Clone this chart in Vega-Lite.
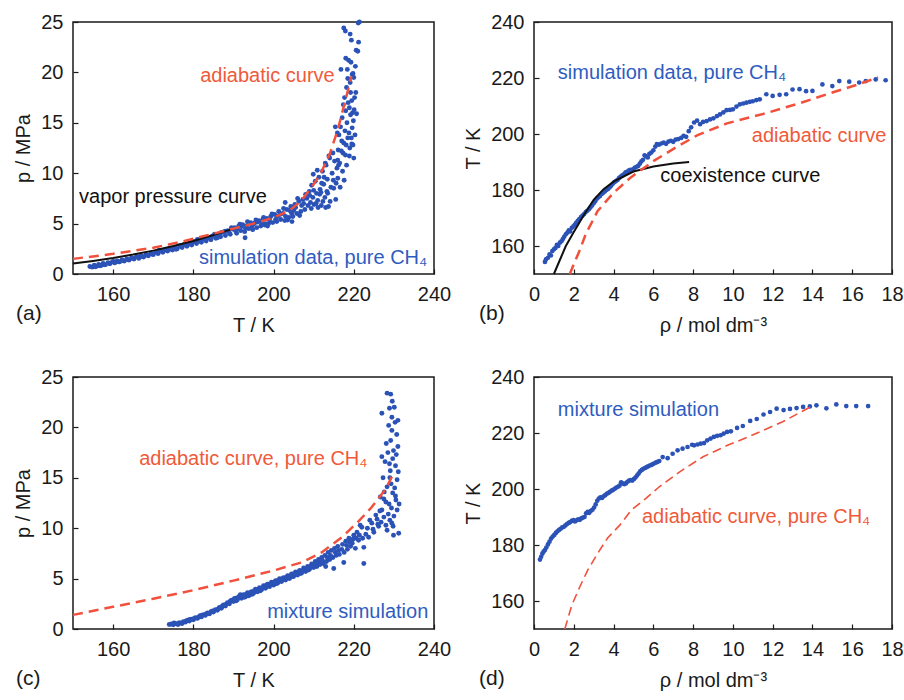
{
"$schema": "https://vega.github.io/schema/vega-lite/v6.json",
"background": "white",
"padding": {"left": 13, "top": 11, "right": 0, "bottom": 0},
"autosize": {"type": "pad"},
"config": {
  "font": "Liberation Sans",
  "view": {"stroke": "#1a1a1a", "strokeWidth": 1.5},
  "axis": {"domain": false, "grid": false, "tickSize": -5, "tickColor": "#1a1a1a", "tickWidth": 1.2,
           "labelFontSize": 20, "labelColor": "#1a1a1a", "labelPadding": 15, "labelFlush": false, "labelOverlap": false,
           "titleFontSize": 20, "titleFontWeight": "normal", "titleColor": "#1a1a1a"},
  "axisX": {"titlePadding": 11},
  "axisY": {"titlePadding": 7},
  "title": {"fontSize": 21, "fontWeight": "normal", "color": "#1a1a1a", "font": "Liberation Sans"}
},
"datasets": {
  "a_sim": [
{"T":154.2,"p":0.75},{"T":154.8,"p":0.68},{"T":155.3,"p":0.88},{"T":155.9,"p":0.78},{"T":156.4,"p":0.95},{"T":157.0,"p":0.85},{"T":157.5,"p":1.05},{"T":158.1,"p":0.93},{"T":158.7,"p":1.12},{"T":159.2,"p":1.02},{"T":159.8,"p":1.2},{"T":160.4,"p":1.1},{"T":161.0,"p":1.3},{"T":161.6,"p":1.2},{"T":162.2,"p":1.4},{"T":162.8,"p":1.28},{"T":163.4,"p":1.5},{"T":164.0,"p":1.38},{"T":164.6,"p":1.6},{"T":165.2,"p":1.48},{"T":165.8,"p":1.7},{"T":166.4,"p":1.55},{"T":167.0,"p":1.8},{"T":167.6,"p":1.68},{"T":168.2,"p":1.92},{"T":168.8,"p":1.8},{"T":169.4,"p":2.05},{"T":170.0,"p":1.92},{"T":170.6,"p":2.15},{"T":171.2,"p":2.02},{"T":171.8,"p":2.3},{"T":172.4,"p":2.15},{"T":173.0,"p":2.42},{"T":173.6,"p":2.28},{"T":174.2,"p":2.55},{"T":174.8,"p":2.38},{"T":175.4,"p":2.65},{"T":176.0,"p":2.5},{"T":176.6,"p":2.8},{"T":177.2,"p":2.62},{"T":177.8,"p":2.95},{"T":178.4,"p":2.75},{"T":179.0,"p":3.1},{"T":179.6,"p":2.88},{"T":180.2,"p":3.2},{"T":180.8,"p":3.02},{"T":181.4,"p":3.38},{"T":182.0,"p":3.15},{"T":182.6,"p":3.5},{"T":183.2,"p":3.28},{"T":183.8,"p":3.62},{"T":184.4,"p":3.4},{"T":185.0,"p":3.8},{"T":185.6,"p":3.55},{"T":186.2,"p":3.95},{"T":186.8,"p":3.7},{"T":187.4,"p":4.15},{"T":188.0,"p":3.82},{"T":188.6,"p":4.3},{"T":189.2,"p":3.95},{"T":189.8,"p":4.45},
{"T":155.6,"p":0.72},{"T":157.8,"p":0.92},{"T":160.1,"p":1.25},{"T":162.5,"p":1.32},{"T":164.9,"p":1.55},{"T":167.3,"p":1.72},{"T":169.7,"p":1.98},{"T":172.1,"p":2.25},{"T":174.5,"p":2.45},{"T":176.9,"p":2.72},{"T":179.3,"p":2.98},{"T":181.7,"p":3.25},{"T":184.1,"p":3.52},{"T":186.5,"p":3.82},{"T":188.9,"p":4.12},{"T":183.5,"p":3.6},{"T":178.1,"p":2.9},{"T":173.3,"p":2.35},{"T":168.5,"p":1.85},{"T":163.7,"p":1.42},{"T":158.9,"p":1.08},{"T":181.0,"p":3.42},{"T":186.0,"p":3.6},
{"T":171.5,"p":2.35},{"T":175.7,"p":2.45},{"T":179.9,"p":3.2},{"T":182.3,"p":3.45},{"T":184.7,"p":3.75},{"T":166.1,"p":1.72},{"T":161.3,"p":1.22},{"T":156.7,"p":0.82},
{"T":190.3,"p":4.6},{"T":190.8,"p":4.05},{"T":191.3,"p":4.75},{"T":191.8,"p":4.3},{"T":192.3,"p":4.9},{"T":192.8,"p":4.2},{"T":193.3,"p":4.8},{"T":193.8,"p":4.5},{"T":194.3,"p":5.1},{"T":194.8,"p":4.4},{"T":195.3,"p":5.05},{"T":195.8,"p":4.6},{"T":196.3,"p":5.3},{"T":196.8,"p":4.75},{"T":197.3,"p":5.4},{"T":197.8,"p":4.85},{"T":198.3,"p":5.5},{"T":198.8,"p":5.0},{"T":199.3,"p":5.7},{"T":199.8,"p":5.1},{"T":191.0,"p":4.5},{"T":193.0,"p":4.55},{"T":195.0,"p":4.95},{"T":197.0,"p":5.05},{"T":199.0,"p":5.35},{"T":192.0,"p":4.7},{"T":196.0,"p":5.15},{"T":198.0,"p":5.0},{"T":192.9,"p":3.6},
{"T":185.3,"p":3.95},{"T":186.9,"p":4.1},{"T":187.9,"p":4.25},{"T":189.5,"p":4.6},{"T":190.5,"p":4.3},{"T":191.6,"p":4.95},{"T":193.5,"p":5.2},{"T":194.6,"p":4.7},{"T":195.6,"p":5.35},{"T":197.5,"p":5.6},{"T":198.5,"p":4.75},{"T":199.6,"p":5.95},
{"T":200.3,"p":5.9},{"T":200.8,"p":5.2},{"T":201.3,"p":6.2},{"T":201.8,"p":5.4},{"T":202.3,"p":6.0},{"T":202.8,"p":5.3},{"T":202.9,"p":7.1},{"T":203.3,"p":6.4},{"T":203.8,"p":5.6},{"T":204.3,"p":6.7},{"T":204.8,"p":5.7},{"T":205.3,"p":6.9},{"T":205.8,"p":6.0},{"T":206.3,"p":7.2},{"T":206.8,"p":6.2},{"T":207.3,"p":7.4},{"T":207.8,"p":6.4},{"T":201.0,"p":5.7},{"T":203.0,"p":5.7},{"T":205.0,"p":6.3},{"T":207.0,"p":6.8},{"T":204.0,"p":6.3},{"T":206.0,"p":7.5},{"T":204.6,"p":5.2},
{"T":200.5,"p":5.4},{"T":201.6,"p":5.9},{"T":202.5,"p":6.5},{"T":203.5,"p":5.35},{"T":204.5,"p":6.0},{"T":205.5,"p":6.6},{"T":206.5,"p":5.8},{"T":207.5,"p":7.0},
{"T":208.3,"p":7.5},{"T":208.6,"p":6.8},{"T":208.9,"p":8.2},{"T":209.2,"p":7.1},{"T":209.5,"p":8.8},{"T":209.8,"p":7.6},{"T":210.1,"p":6.9},{"T":210.4,"p":9.2},{"T":210.7,"p":8.0},{"T":211.0,"p":7.3},{"T":211.3,"p":9.6},{"T":211.6,"p":8.4},{"T":211.9,"p":6.8},{"T":212.2,"p":10.2},{"T":212.5,"p":8.9},{"T":212.8,"p":7.6},{"T":213.1,"p":10.8},{"T":213.4,"p":9.4},{"T":213.7,"p":6.7},{"T":214.0,"p":11.5},{"T":214.3,"p":8.6},{"T":214.6,"p":10.0},{"T":213.0,"p":6.6},{"T":212.0,"p":9.0},{"T":211.5,"p":7.9},{"T":210.0,"p":8.3},{"T":209.0,"p":7.8},{"T":214.9,"p":9.3},{"T":215.2,"p":11.2},{"T":215.5,"p":7.4},{"T":215.8,"p":10.5},{"T":216.1,"p":12.3},{"T":215.0,"p":8.5},{"T":216.0,"p":9.5},{"T":215.4,"p":14.6},{"T":215.9,"p":14.0},{"T":213.8,"p":11.7},
{"T":208.0,"p":7.9},{"T":209.4,"p":6.5},{"T":210.6,"p":7.0},{"T":211.8,"p":8.1},{"T":212.6,"p":9.6},{"T":213.3,"p":8.2},{"T":214.1,"p":7.2},{"T":214.8,"p":12.0},{"T":215.6,"p":9.0},{"T":216.2,"p":10.8},{"T":216.6,"p":8.6},{"T":217.3,"p":12.0},{"T":218.2,"p":10.8},{"T":218.9,"p":11.7},{"T":219.2,"p":18.0},{"T":217.0,"p":13.2},{"T":218.5,"p":19.4},{"T":220.2,"p":17.5},{"T":216.0,"p":11.3},{"T":213.5,"p":8.0},{"T":212.3,"p":7.2},{"T":211.1,"p":6.6},{"T":209.9,"p":9.9},{"T":210.9,"p":10.3},{"T":212.9,"p":11.0},
{"T":216.3,"p":13.8},{"T":216.5,"p":11.0},{"T":216.7,"p":14.6},{"T":216.9,"p":12.2},{"T":217.1,"p":15.5},{"T":217.2,"p":10.2},{"T":217.4,"p":16.8},{"T":217.5,"p":13.0},{"T":217.6,"p":9.3},{"T":217.7,"p":17.5},{"T":217.8,"p":14.2},{"T":217.9,"p":11.8},{"T":218.0,"p":16.2},{"T":218.1,"p":12.8},{"T":218.2,"p":18.5},{"T":218.3,"p":15.0},{"T":218.4,"p":20.3},{"T":218.5,"p":13.5},{"T":218.6,"p":17.0},{"T":218.7,"p":21.2},{"T":218.8,"p":14.0},{"T":218.9,"p":16.5},{"T":219.0,"p":12.5},{"T":219.1,"p":19.0},{"T":219.2,"p":15.8},{"T":219.3,"p":21.0},{"T":219.4,"p":13.5},{"T":219.5,"p":17.2},{"T":219.6,"p":19.8},{"T":219.7,"p":16.0},{"T":219.8,"p":12.8},{"T":219.9,"p":15.2},{"T":220.0,"p":19.5},{"T":220.1,"p":16.3},{"T":220.3,"p":13.8},{"T":220.5,"p":18.0},{"T":220.7,"p":15.9},{"T":221.0,"p":22.1},{"T":221.2,"p":23.0},{"T":217.5,"p":24.4},{"T":217.9,"p":24.1},{"T":219.1,"p":23.8},{"T":219.4,"p":23.2},{"T":218.0,"p":21.4},{"T":220.4,"p":20.6},{"T":220.6,"p":22.2},{"T":221.1,"p":24.9},{"T":221.4,"p":25.0},{"T":216.8,"p":20.3},{"T":219.8,"p":19.9},{"T":219.5,"p":12.9},{"T":220.0,"p":11.5},{"T":219.6,"p":14.5}
  ],
  "a_adia": [{"T":150,"p":1.5},{"T":160,"p":2.0},{"T":170,"p":2.6},{"T":177,"p":3.2},{"T":185,"p":4.0},{"T":190,"p":4.5},{"T":195,"p":5.0},{"T":200,"p":5.6},{"T":204,"p":6.3},{"T":207,"p":7.3},{"T":210,"p":8.9},{"T":212,"p":10.2},{"T":214,"p":11.9},{"T":216,"p":14.3},{"T":217.5,"p":16.6},{"T":218.6,"p":18.3},{"T":219.4,"p":19.6}],
  "a_vap": [{"T":150,"p":1.04},{"T":155,"p":1.3},{"T":160,"p":1.59},{"T":165,"p":1.93},{"T":170,"p":2.32},{"T":175,"p":2.77},{"T":180,"p":3.28},{"T":185,"p":3.86},{"T":189.6,"p":4.45}],
  "a_txt": [{"T":181.7,"p":19.6,"label":"adiabatic curve","kind":"adiabatic"},{"T":151.5,"p":7.6,"label":"vapor pressure curve","kind":"black"},{"T":181.4,"p":1.6,"label":"simulation data, pure CH₄","kind":"simulation"}],
  "b_sim": [
{"rho":0.55,"T":154.3},{"rho":0.6,"T":155.2},{"rho":0.7,"T":155.8},{"rho":0.78,"T":157.0},{"rho":0.85,"T":156.6},{"rho":0.92,"T":158.2},{"rho":1.0,"T":158.8},{"rho":1.08,"T":159.3},{"rho":1.15,"T":160.4},{"rho":1.22,"T":160.0},{"rho":1.3,"T":161.2},{"rho":1.38,"T":161.7},{"rho":1.45,"T":162.5},{"rho":1.52,"T":163.3},{"rho":1.6,"T":164.2},{"rho":1.68,"T":164.8},{"rho":1.75,"T":165.6},{"rho":1.82,"T":165.2},{"rho":1.9,"T":166.5},{"rho":1.98,"T":167.0},{"rho":2.05,"T":167.6},{"rho":2.12,"T":168.3},{"rho":2.2,"T":169.0},{"rho":2.28,"T":169.6},{"rho":2.36,"T":170.3},{"rho":2.44,"T":170.9},{"rho":2.52,"T":171.4},{"rho":2.6,"T":172.1},{"rho":2.68,"T":172.6},{"rho":2.76,"T":173.1},{"rho":2.84,"T":173.8},{"rho":2.92,"T":174.5},{"rho":3.0,"T":175.3},{"rho":3.08,"T":176.0},{"rho":3.16,"T":176.9},{"rho":3.24,"T":177.4},{"rho":3.32,"T":177.9},{"rho":3.4,"T":178.6},{"rho":3.48,"T":179.0},{"rho":3.56,"T":179.5},{"rho":3.64,"T":180.0},{"rho":3.72,"T":180.4},{"rho":3.8,"T":180.9},{"rho":3.88,"T":181.5},{"rho":3.96,"T":182.2},{"rho":4.04,"T":182.8},{"rho":4.12,"T":183.2},{"rho":4.2,"T":183.6},{"rho":4.28,"T":184.3},{"rho":4.36,"T":184.8},{"rho":4.44,"T":185.2},{"rho":4.52,"T":185.6},{"rho":4.6,"T":186.3},{"rho":4.68,"T":186.5},{"rho":4.76,"T":186.9},{"rho":4.84,"T":187.2},{"rho":4.92,"T":187.0},{"rho":5.0,"T":187.6},{"rho":5.08,"T":188.0},{"rho":5.16,"T":188.3},{"rho":5.24,"T":188.6},{"rho":5.32,"T":189.4},{"rho":5.4,"T":190.2},{"rho":5.48,"T":190.8},{"rho":5.56,"T":192.4},{"rho":5.64,"T":192.0},{"rho":5.72,"T":191.6},{"rho":5.8,"T":192.9},{"rho":5.9,"T":193.4},{"rho":6.0,"T":194.2},{"rho":6.1,"T":195.5},{"rho":6.18,"T":196.4},{"rho":6.28,"T":196.2},{"rho":6.4,"T":196.6},{"rho":6.52,"T":196.9},{"rho":6.64,"T":196.5},{"rho":6.76,"T":197.3},{"rho":6.88,"T":197.6},{"rho":7.0,"T":197.2},{"rho":7.12,"T":198.0},{"rho":7.25,"T":198.2},{"rho":7.4,"T":198.6},{"rho":7.52,"T":199.3},{"rho":7.65,"T":199.0},{"rho":7.78,"T":201.0},{"rho":7.9,"T":202.4},{"rho":8.05,"T":204.1},{"rho":8.2,"T":204.8},{"rho":8.35,"T":203.5},{"rho":8.5,"T":204.3},{"rho":8.68,"T":204.6},{"rho":8.85,"T":205.2},{"rho":9.02,"T":205.6},{"rho":9.2,"T":206.4},{"rho":9.35,"T":207.0},{"rho":9.52,"T":207.7},{"rho":9.68,"T":208.5},{"rho":9.85,"T":208.6},{"rho":10.0,"T":208.8},{"rho":10.18,"T":209.8},{"rho":10.35,"T":210.6},{"rho":10.52,"T":210.9},{"rho":10.68,"T":211.2},{"rho":10.85,"T":211.5},{"rho":11.0,"T":211.7},{"rho":11.18,"T":212.1},{"rho":11.35,"T":212.4},{"rho":11.68,"T":214.2},{"rho":12.0,"T":213.6},{"rho":12.35,"T":214.0},{"rho":12.68,"T":214.2},{"rho":13.0,"T":215.9},{"rho":13.35,"T":216.0},{"rho":13.68,"T":215.3},{"rho":14.0,"T":215.4},{"rho":14.5,"T":217.7},{"rho":15.0,"T":217.1},{"rho":15.35,"T":218.9},{"rho":15.85,"T":218.7},{"rho":16.35,"T":218.4},{"rho":16.68,"T":218.9},{"rho":17.18,"T":219.5},{"rho":17.68,"T":219.2}
  ],
  "b_adia": [{"rho":1.8,"T":150},{"rho":2.0,"T":153.5},{"rho":2.3,"T":158.5},{"rho":2.6,"T":164.2},{"rho":3.2,"T":172.5},{"rho":4.0,"T":179},{"rho":4.85,"T":184.4},{"rho":6.0,"T":190.3},{"rho":7.2,"T":195.5},{"rho":8.2,"T":199.5},{"rho":9.7,"T":203.8},{"rho":11.7,"T":207.5},{"rho":13.35,"T":211},{"rho":15.0,"T":214.8},{"rho":16.2,"T":217.5},{"rho":17.3,"T":220.2}],
  "b_coex": [{"rho":1.0,"T":150},{"rho":1.3,"T":155},{"rho":1.6,"T":160},{"rho":2.0,"T":165},{"rho":2.5,"T":171},{"rho":3.0,"T":176.5},{"rho":3.5,"T":180.3},{"rho":4.0,"T":183.0},{"rho":5.0,"T":186.6},{"rho":6.0,"T":188.4},{"rho":7.0,"T":189.5},{"rho":7.8,"T":190.0}],
  "b_txt": [{"rho":1.2,"T":221.8,"label":"simulation data, pure CH₄","kind":"simulation"},{"rho":10.95,"T":199.3,"label":"adiabatic curve","kind":"adiabatic"},{"rho":6.35,"T":185,"label":"coexistence curve","kind":"black"}],
  "c_sim": [
{"T":174.0,"p":0.45},{"T":174.5,"p":0.5},{"T":175.0,"p":0.42},{"T":175.5,"p":0.55},{"T":176.0,"p":0.5},{"T":176.5,"p":0.62},{"T":177.0,"p":0.58},{"T":177.5,"p":0.72},{"T":178.0,"p":0.68},{"T":178.5,"p":0.85},{"T":179.0,"p":0.8},{"T":179.5,"p":0.98},{"T":180.0,"p":0.92},{"T":180.5,"p":1.12},{"T":181.0,"p":1.05},{"T":181.5,"p":1.25},{"T":182.0,"p":1.2},{"T":182.5,"p":1.42},{"T":183.0,"p":1.35},{"T":183.5,"p":1.58},{"T":184.0,"p":1.5},{"T":184.5,"p":1.75},{"T":185.0,"p":1.68},{"T":185.5,"p":1.92},{"T":186.0,"p":1.85},{"T":186.5,"p":2.15},{"T":187.0,"p":2.05},{"T":187.5,"p":2.38},{"T":188.0,"p":2.28},{"T":188.5,"p":2.6},{"T":189.0,"p":2.5},{"T":189.5,"p":2.85},{"T":190.0,"p":2.72},
{"T":175.2,"p":0.6},{"T":177.2,"p":0.55},{"T":179.2,"p":0.95},{"T":181.2,"p":1.15},{"T":183.2,"p":1.5},{"T":185.2,"p":1.8},{"T":187.2,"p":2.25},{"T":189.2,"p":2.75},{"T":176.2,"p":0.45},{"T":178.2,"p":0.8},{"T":180.2,"p":1.05},{"T":182.2,"p":1.35},{"T":184.2,"p":1.62},{"T":186.2,"p":2.0},{"T":188.2,"p":2.45},
{"T":178.8,"p":0.9},{"T":181.8,"p":1.35},{"T":184.8,"p":1.8},{"T":187.8,"p":2.35},
{"T":190.5,"p":3.05},{"T":191.0,"p":2.9},{"T":191.5,"p":3.25},{"T":192.0,"p":3.05},{"T":192.5,"p":3.4},{"T":193.0,"p":3.2},{"T":193.5,"p":3.6},{"T":194.0,"p":3.35},{"T":194.5,"p":3.7},{"T":195.0,"p":3.55},{"T":195.5,"p":3.95},{"T":196.0,"p":3.7},{"T":196.5,"p":4.1},{"T":197.0,"p":3.9},{"T":197.5,"p":4.3},{"T":198.0,"p":4.05},{"T":198.5,"p":4.45},{"T":199.0,"p":4.2},{"T":199.5,"p":4.65},{"T":200.0,"p":4.35},{"T":200.5,"p":4.8},{"T":201.0,"p":4.55},{"T":201.5,"p":5.0},{"T":202.0,"p":4.7},{"T":202.5,"p":5.1},{"T":203.0,"p":4.85},{"T":203.5,"p":5.3},{"T":204.0,"p":5.0},{"T":204.5,"p":5.45},{"T":205.0,"p":5.2},{"T":205.5,"p":5.65},{"T":206.0,"p":5.35},{"T":206.5,"p":5.8},{"T":207.0,"p":5.55},{"T":207.5,"p":6.05},{"T":208.0,"p":5.7},{"T":208.5,"p":6.2},{"T":209.0,"p":5.95},{"T":209.5,"p":6.45},{"T":210.0,"p":6.1},
{"T":190.7,"p":2.8},{"T":192.7,"p":3.15},{"T":194.7,"p":3.45},{"T":196.7,"p":3.8},{"T":198.7,"p":4.3},{"T":200.7,"p":4.5},{"T":202.7,"p":4.9},{"T":204.7,"p":5.2},{"T":206.7,"p":5.5},{"T":208.7,"p":5.85},{"T":191.7,"p":3.4},{"T":193.7,"p":3.3},{"T":195.7,"p":3.75},{"T":197.7,"p":4.2},{"T":199.7,"p":4.45},{"T":201.7,"p":4.75},{"T":203.7,"p":5.05},{"T":205.7,"p":5.4},{"T":207.7,"p":5.85},{"T":209.7,"p":6.3},
{"T":190.2,"p":3.0},{"T":191.2,"p":3.15},{"T":192.2,"p":3.3},{"T":193.2,"p":3.45},{"T":194.2,"p":3.6},{"T":195.2,"p":3.8},{"T":196.2,"p":3.95},{"T":197.2,"p":4.05},{"T":198.2,"p":4.35},{"T":199.2,"p":4.5},{"T":200.2,"p":4.65},{"T":201.2,"p":4.85},{"T":202.2,"p":5.0},{"T":203.2,"p":5.15},{"T":204.2,"p":5.3},{"T":205.2,"p":5.5},{"T":206.2,"p":5.65},{"T":207.2,"p":5.8},{"T":208.2,"p":6.0},{"T":209.2,"p":6.2},
{"T":210.4,"p":6.7},{"T":210.8,"p":6.2},{"T":211.2,"p":6.9},{"T":211.6,"p":6.4},{"T":212.0,"p":7.1},{"T":212.4,"p":6.5},{"T":212.8,"p":7.3},{"T":213.2,"p":6.7},{"T":213.6,"p":7.6},{"T":214.0,"p":6.9},{"T":214.4,"p":7.8},{"T":214.8,"p":7.1},{"T":215.2,"p":8.0},{"T":215.6,"p":7.3},{"T":216.0,"p":8.2},{"T":216.4,"p":7.4},{"T":215.0,"p":6.0},{"T":217.5,"p":6.6},{"T":213.0,"p":6.2},
{"T":210.6,"p":6.45},{"T":211.4,"p":6.65},{"T":212.2,"p":6.8},{"T":213.4,"p":7.1},{"T":214.2,"p":7.3},{"T":215.4,"p":7.6},{"T":216.2,"p":7.8},{"T":217.0,"p":7.9},{"T":218.2,"p":8.3},{"T":219.0,"p":8.6},{"T":219.8,"p":8.9},{"T":220.6,"p":9.0},{"T":221.4,"p":9.3},{"T":222.2,"p":9.0},{"T":223.4,"p":10.0},{"T":224.8,"p":9.9},{"T":225.8,"p":10.9},{"T":226.8,"p":10.6},{"T":227.6,"p":13.6},{"T":228.6,"p":11.4},{"T":229.8,"p":10.2},{"T":230.4,"p":13.2},{"T":229.3,"p":14.4},{"T":228.1,"p":18.4},{"T":230.7,"p":19.3},{"T":229.7,"p":16.9},{"T":228.9,"p":21.9},{"T":231.1,"p":15.6},
{"T":217.2,"p":8.4},{"T":217.6,"p":7.6},{"T":218.0,"p":8.7},{"T":218.4,"p":7.9},{"T":218.8,"p":9.0},{"T":219.2,"p":8.2},{"T":219.6,"p":8.5},{"T":220.0,"p":9.3},{"T":220.4,"p":8.0},{"T":220.8,"p":9.6},{"T":221.2,"p":8.8},{"T":221.6,"p":10.3},{"T":222.0,"p":10.1},{"T":222.5,"p":8.1},{"T":222.5,"p":6.5},{"T":223.0,"p":9.4},{"T":223.7,"p":9.1},{"T":224.0,"p":10.8},{"T":224.5,"p":10.5},{"T":225.0,"p":9.6},{"T":225.5,"p":11.3},{"T":226.0,"p":10.4},{"T":226.2,"p":10.2},{"T":226.6,"p":13.1},{"T":227.0,"p":11.8},{"T":227.0,"p":17.1},{"T":227.0,"p":21.4},{"T":227.5,"p":11.1},{"T":227.8,"p":16.6},{"T":228.0,"p":12.6},{"T":228.3,"p":14.1},{"T":228.3,"p":9.8},{"T":228.3,"p":23.4},{"T":228.5,"p":17.5},{"T":228.8,"p":12.4},{"T":229.0,"p":15.0},{"T":229.1,"p":15.7},{"T":229.2,"p":18.7},{"T":229.2,"p":23.3},{"T":229.5,"p":10.5},{"T":229.5,"p":19.7},{"T":229.5,"p":21.0},{"T":229.7,"p":13.5},{"T":229.9,"p":17.7},{"T":229.9,"p":9.3},{"T":230.0,"p":11.2},{"T":230.1,"p":22.0},{"T":230.3,"p":20.5},{"T":230.4,"p":16.2},{"T":230.5,"p":12.8},{"T":230.8,"p":14.8},{"T":230.8,"p":11.8},{"T":231.0,"p":18.1},{"T":231.2,"p":9.5},{"T":231.0,"p":20.7},{"T":229.0,"p":10.8},{"T":228.0,"p":10.3},{"T":227.5,"p":12.9},{"T":226.5,"p":11.7},{"T":230.2,"p":14.0},{"T":229.4,"p":12.0},{"T":228.7,"p":20.2},{"T":230.6,"p":17.3},{"T":227.3,"p":15.0},{"T":228.9,"p":16.4},{"T":231.3,"p":12.4},{"T":229.6,"p":22.6}
  ],
  "c_adia": [{"T":150,"p":1.4},{"T":160,"p":2.2},{"T":170,"p":3.0},{"T":180,"p":3.85},{"T":190,"p":4.8},{"T":200,"p":5.8},{"T":207,"p":6.6},{"T":212,"p":7.6},{"T":217,"p":9.1},{"T":221,"p":10.6},{"T":224.5,"p":12.1},{"T":227.8,"p":13.8},{"T":229.5,"p":15.1}],
  "c_txt": [{"T":166.5,"p":16.9,"label":"adiabatic curve, pure CH₄","kind":"adiabatic"},{"T":198.4,"p":1.69,"label":"mixture simulation","kind":"simulation"}],
  "d_sim": [
{"rho":0.3,"T":174.8},{"rho":0.36,"T":175.8},{"rho":0.42,"T":176.9},{"rho":0.48,"T":177.6},{"rho":0.55,"T":178.2},{"rho":0.62,"T":179.1},{"rho":0.7,"T":180.2},{"rho":0.78,"T":181.2},{"rho":0.86,"T":182.3},{"rho":0.94,"T":183.0},{"rho":1.02,"T":183.6},{"rho":1.1,"T":184.3},{"rho":1.18,"T":184.9},{"rho":1.26,"T":185.4},{"rho":1.34,"T":185.8},{"rho":1.42,"T":186.3},{"rho":1.5,"T":186.5},{"rho":1.58,"T":187.0},{"rho":1.66,"T":187.5},{"rho":1.74,"T":187.9},{"rho":1.82,"T":188.2},{"rho":1.9,"T":188.6},{"rho":1.98,"T":188.9},{"rho":2.06,"T":188.4},{"rho":2.14,"T":188.8},{"rho":2.22,"T":189.2},{"rho":2.3,"T":189.0},{"rho":2.38,"T":189.5},{"rho":2.46,"T":189.8},{"rho":2.54,"T":190.0},{"rho":2.62,"T":191.3},{"rho":2.7,"T":191.8},{"rho":2.78,"T":191.5},{"rho":2.86,"T":192.2},{"rho":2.94,"T":192.6},{"rho":3.02,"T":193.4},{"rho":3.1,"T":194.5},{"rho":3.18,"T":195.8},{"rho":3.26,"T":196.6},{"rho":3.34,"T":197.0},{"rho":3.42,"T":196.8},{"rho":3.5,"T":197.4},{"rho":3.58,"T":197.8},{"rho":3.66,"T":198.3},{"rho":3.74,"T":198.6},{"rho":3.82,"T":199.0},{"rho":3.9,"T":199.4},{"rho":3.98,"T":199.7},{"rho":4.06,"T":200.1},{"rho":4.14,"T":200.5},{"rho":4.22,"T":200.8},{"rho":4.3,"T":201.2},{"rho":4.38,"T":202.4},{"rho":4.46,"T":202.0},{"rho":4.54,"T":201.7},{"rho":4.62,"T":202.0},{"rho":4.7,"T":202.6},{"rho":4.78,"T":203.0},{"rho":4.86,"T":203.2},{"rho":4.94,"T":203.0},{"rho":5.02,"T":203.5},{"rho":5.1,"T":204.1},{"rho":5.18,"T":204.8},{"rho":5.26,"T":205.5},{"rho":5.34,"T":206.3},{"rho":5.42,"T":206.8},{"rho":5.5,"T":207.2},{"rho":5.58,"T":207.5},{"rho":5.66,"T":207.8},{"rho":5.74,"T":208.1},{"rho":5.82,"T":208.4},{"rho":5.9,"T":208.6},{"rho":5.98,"T":208.9},{"rho":6.06,"T":209.2},{"rho":6.14,"T":209.5},{"rho":6.22,"T":209.7},{"rho":6.3,"T":210.0},{"rho":6.47,"T":211.4},{"rho":6.72,"T":211.0},{"rho":6.97,"T":212.6},{"rho":7.22,"T":213.8},{"rho":7.47,"T":214.4},{"rho":7.72,"T":215.0},{"rho":7.95,"T":215.8},{"rho":8.05,"T":215.6},{"rho":8.22,"T":215.9},{"rho":8.38,"T":216.2},{"rho":8.55,"T":216.4},{"rho":8.71,"T":217.4},{"rho":8.88,"T":218.0},{"rho":9.04,"T":218.6},{"rho":9.21,"T":219.0},{"rho":9.38,"T":219.2},{"rho":9.54,"T":219.8},{"rho":9.71,"T":220.4},{"rho":9.9,"T":220.6},{"rho":10.21,"T":221.8},{"rho":10.5,"T":222.5},{"rho":10.87,"T":224.3},{"rho":11.2,"T":225.0},{"rho":11.54,"T":226.6},{"rho":11.87,"T":227.5},{"rho":12.2,"T":228.7},{"rho":12.55,"T":228.2},{"rho":12.87,"T":228.6},{"rho":13.2,"T":228.9},{"rho":13.53,"T":229.3},{"rho":13.87,"T":229.5},{"rho":14.2,"T":229.9},{"rho":14.7,"T":228.8},{"rho":15.2,"T":230.2},{"rho":15.7,"T":229.6},{"rho":16.2,"T":229.6},{"rho":16.8,"T":229.6}
  ],
  "d_adia": [{"rho":1.55,"T":150},{"rho":1.9,"T":158.5},{"rho":2.3,"T":165},{"rho":2.7,"T":171},{"rho":3.2,"T":177},{"rho":3.7,"T":182.5},{"rho":4.3,"T":187},{"rho":4.9,"T":192.5},{"rho":5.6,"T":196.5},{"rho":6.3,"T":200.8},{"rho":7.4,"T":206.5},{"rho":8.5,"T":211.5},{"rho":9.7,"T":215.5},{"rho":10.9,"T":219},{"rho":12.5,"T":224},{"rho":13.95,"T":229.5}],
  "d_txt": [{"rho":1.2,"T":228.2,"label":"mixture simulation","kind":"simulation"},{"rho":5.43,"T":190,"label":"adiabatic curve, pure CH₄","kind":"adiabatic"}]
},
"columns": 2,
"spacing": {"row": 103, "column": 100},
"bounds": "flush",
"resolve": {"scale": {"x": "independent", "y": "independent"}, "axis": {"x": "independent", "y": "independent"}},
"concat": [
 {
  "width": 361, "height": 252,
  "title": {"text": "(a)", "orient": "bottom", "anchor": "start", "frame": "group", "dx": -57, "dy": -36},
  "encoding": {
    "x": {"field": "T", "type": "quantitative", "scale": {"domain": [150, 240], "nice": false, "zero": false}, "axis": {"values": [160, 180, 200, 220, 240], "title": "T / K"}},
    "y": {"field": "p", "type": "quantitative", "scale": {"domain": [0, 25], "nice": false}, "axis": {"values": [0, 5, 10, 15, 20, 25], "title": "p / MPa"}}
  },
  "layer": [
    {"data": {"name": "a_sim"}, "mark": {"type": "circle", "size": 24, "color": "#2b52b6", "opacity": 1}},
    {"data": {"name": "a_vap"}, "mark": {"type": "line", "color": "#111111", "strokeWidth": 2}},
    {"data": {"name": "a_adia"}, "mark": {"type": "line", "color": "#f0503c", "strokeWidth": 2.5, "strokeDash": [10, 6]}},
    {"data": {"name": "a_txt"}, "mark": {"type": "text", "align": "left", "baseline": "middle", "fontSize": 20},
     "encoding": {"text": {"field": "label"}, "color": {"field": "kind", "type": "nominal", "scale": {"domain": ["adiabatic", "simulation", "black"], "range": ["#ef5a3a", "#2f5cc0", "#111111"]}, "legend": null}}}
  ]
 },
 {
  "width": 358, "height": 252,
  "title": {"text": "(b)", "orient": "bottom", "anchor": "start", "frame": "group", "dx": -55, "dy": -36},
  "encoding": {
    "x": {"field": "rho", "type": "quantitative", "scale": {"domain": [0, 18], "nice": false}, "axis": {"values": [0, 2, 4, 6, 8, 10, 12, 14, 16, 18], "title": "ρ / mol dm⁻³"}},
    "y": {"field": "T", "type": "quantitative", "scale": {"domain": [150, 240], "nice": false, "zero": false}, "axis": {"values": [160, 180, 200, 220, 240], "title": "T / K"}}
  },
  "layer": [
    {"data": {"name": "b_sim"}, "mark": {"type": "circle", "size": 22, "color": "#2b52b6", "opacity": 1}},
    {"data": {"name": "b_coex"}, "mark": {"type": "line", "color": "#111111", "strokeWidth": 2}},
    {"data": {"name": "b_adia"}, "mark": {"type": "line", "color": "#f0503c", "strokeWidth": 2.5, "strokeDash": [10, 6]}},
    {"data": {"name": "b_txt"}, "mark": {"type": "text", "align": "left", "baseline": "middle", "fontSize": 20},
     "encoding": {"text": {"field": "label"}, "color": {"field": "kind", "type": "nominal", "scale": {"domain": ["adiabatic", "simulation", "black"], "range": ["#ef5a3a", "#2f5cc0", "#111111"]}, "legend": null}}}
  ]
 },
 {
  "width": 361, "height": 252,
  "title": {"text": "(c)", "orient": "bottom", "anchor": "start", "frame": "group", "dx": -57, "dy": -26},
  "encoding": {
    "x": {"field": "T", "type": "quantitative", "scale": {"domain": [150, 240], "nice": false, "zero": false}, "axis": {"values": [160, 180, 200, 220, 240], "title": "T / K"}},
    "y": {"field": "p", "type": "quantitative", "scale": {"domain": [0, 25], "nice": false}, "axis": {"values": [0, 5, 10, 15, 20, 25], "title": "p / MPa"}}
  },
  "layer": [
    {"data": {"name": "c_sim"}, "mark": {"type": "circle", "size": 24, "color": "#2b52b6", "opacity": 1}},
    {"data": {"name": "c_adia"}, "mark": {"type": "line", "color": "#f0503c", "strokeWidth": 2.5, "strokeDash": [10, 6]}},
    {"data": {"name": "c_txt"}, "mark": {"type": "text", "align": "left", "baseline": "middle", "fontSize": 20},
     "encoding": {"text": {"field": "label"}, "color": {"field": "kind", "type": "nominal", "scale": {"domain": ["adiabatic", "simulation", "black"], "range": ["#ef5a3a", "#2f5cc0", "#111111"]}, "legend": null}}}
  ]
 },
 {
  "width": 358, "height": 252,
  "title": {"text": "(d)", "orient": "bottom", "anchor": "start", "frame": "group", "dx": -55, "dy": -26},
  "encoding": {
    "x": {"field": "rho", "type": "quantitative", "scale": {"domain": [0, 18], "nice": false}, "axis": {"values": [0, 2, 4, 6, 8, 10, 12, 14, 16, 18], "title": "ρ / mol dm⁻³"}},
    "y": {"field": "T", "type": "quantitative", "scale": {"domain": [150, 240], "nice": false, "zero": false}, "axis": {"values": [160, 180, 200, 220, 240], "title": "T / K"}}
  },
  "layer": [
    {"data": {"name": "d_sim"}, "mark": {"type": "circle", "size": 22, "color": "#2b52b6", "opacity": 1}},
    {"data": {"name": "d_adia"}, "mark": {"type": "line", "color": "#f0503c", "strokeWidth": 1.6, "strokeDash": [9, 5]}},
    {"data": {"name": "d_txt"}, "mark": {"type": "text", "align": "left", "baseline": "middle", "fontSize": 20},
     "encoding": {"text": {"field": "label"}, "color": {"field": "kind", "type": "nominal", "scale": {"domain": ["adiabatic", "simulation", "black"], "range": ["#ef5a3a", "#2f5cc0", "#111111"]}, "legend": null}}}
  ]
 }
]
}
